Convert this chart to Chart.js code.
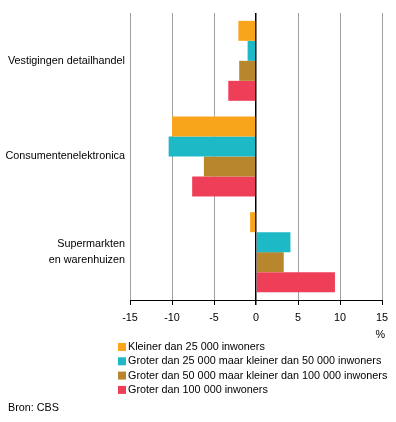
<!DOCTYPE html>
<html>
<head>
<meta charset="utf-8">
<script src="https://cdn.jsdelivr.net/npm/chart.js@4"></script>
<style>
  html, body { margin: 0; padding: 0; background: #fff; }
  #wrap { width: 396px; height: 422px; position: relative; }
</style>
</head>
<body>
<div id="wrap"><canvas id="chart" width="396" height="422"></canvas></div>
<script>
// categorieën en reeksen (procentuele verandering)
const categories = ['Vestigingen detailhandel', 'Consumentenelektronica', ['Supermarkten', 'en warenhuizen']];
const seriesNames = [
    'Kleiner dan 25 000 inwoners',
    'Groter dan 25 000 maar kleiner dan 50 000 inwoners',
    'Groter dan 50 000 maar kleiner dan 100 000 inwoners',
    'Groter dan 100 000 inwoners'
];
const kleiner25 = [-2.1, -10.0, -0.7];
const tussen25en50 = [-1.0, -10.4, 4.1];
const tussen50en100 = [-2.0, -6.2, 3.3];
const groter100 = [-3.3, -7.6, 9.4];
const xTicks = [-15, -10, -5, 0, 5, 10, 15];
const colors = ['#f9a51b', '#1eb9c6', '#b8862d', '#ee3e58'];

const FONT = 'Arial, "Liberation Sans", sans-serif';
const SIZE = 10.8;

// legenda, eenheid en bron tekenen onder de grafiek
const extraText = {
    id: 'extraText',
    afterDraw(chart) {
        const ctx = chart.ctx;
        ctx.save();
        ctx.font = SIZE + 'px ' + FONT;
        ctx.fillStyle = '#000';
        ctx.textBaseline = 'middle';
        ctx.textAlign = 'right';
        ctx.fillText('%', 385, 335);
        ctx.textAlign = 'left';
        seriesNames.forEach((name, i) => {
            const y = 347 + i * 14.3;
            ctx.fillStyle = colors[i];
            ctx.fillRect(118, y - 4, 8, 8);
            ctx.fillStyle = '#000';
            ctx.fillText(name, 128, y);
        });
        ctx.fillText('Bron: CBS', 8, 408);
        ctx.restore();
    }
};

new Chart(document.getElementById('chart'), {
    type: 'bar',
    data: {
        labels: categories,
        datasets: [kleiner25, tussen25en50, tussen50en100, groter100].map((d, i) => ({
            label: seriesNames[i],
            data: d,
            backgroundColor: colors[i],
            borderWidth: 0,
            categoryPercentage: 0.836,
            barPercentage: 1.0
        }))
    },
    options: {
        indexAxis: 'y',
        responsive: false,
        animation: false,
        layout: { padding: { top: 13, right: 14, left: 0, bottom: 0 } },
        plugins: {
            legend: { display: false },
            tooltip: { enabled: false }
        },
        scales: {
            x: {
                min: -15,
                max: 15,
                afterBuildTicks: (scale) => { scale.ticks = xTicks.map(v => ({ value: v })); },
                afterFit: (scale) => { scale.height = 122; },
                grid: {
                    color: (c) => c.tick && c.tick.value === 0 ? '#000' : '#a0a0a0',
                    lineWidth: (c) => c.tick && c.tick.value === 0 ? 1.5 : 1,
                    tickColor: '#000',
                    tickLength: 5
                },
                border: { color: '#000', width: 1 },
                ticks: {
                    color: '#000',
                    padding: 7,
                    maxRotation: 0,
                    font: { family: FONT, size: SIZE }
                }
            },
            y: {
                afterFit: (scale) => { scale.width = 130; },
                grid: { display: false },
                border: { display: false },
                ticks: {
                    color: '#000',
                    padding: -3,
                    font: { family: FONT, size: SIZE, lineHeight: 1.45 }
                }
            }
        }
    },
    plugins: [extraText]
});
</script>
</body>
</html>
